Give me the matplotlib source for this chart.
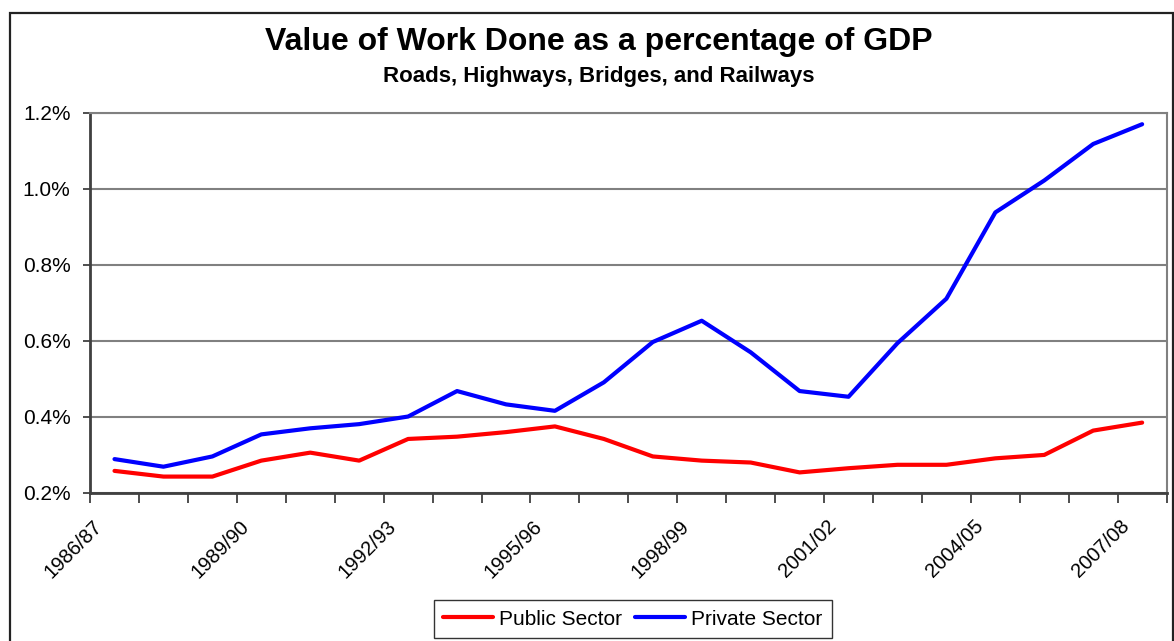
import matplotlib.pyplot as plt
from matplotlib.patches import Rectangle
from matplotlib.ticker import FuncFormatter

years = ['1986/87', '1987/88', '1988/89', '1989/90', '1990/91', '1991/92', '1992/93',
         '1993/94', '1994/95', '1995/96', '1996/97', '1997/98', '1998/99', '1999/00',
         '2000/01', '2001/02', '2002/03', '2003/04', '2004/05', '2005/06', '2006/07',
         '2007/08']
public = [0.258, 0.243, 0.243, 0.285, 0.306, 0.285, 0.342, 0.348, 0.360, 0.375, 0.342,
          0.296, 0.285, 0.280, 0.254, 0.265, 0.274, 0.274, 0.291, 0.300, 0.364, 0.385]
private = [0.289, 0.269, 0.296, 0.354, 0.370, 0.381, 0.401, 0.468, 0.433, 0.416, 0.491,
           0.597, 0.653, 0.570, 0.468, 0.453, 0.594, 0.711, 0.938, 1.022, 1.118, 1.170]

plt.rcParams['font.family'] = ['Liberation Sans', 'DejaVu Sans']

fig = plt.figure(figsize=(11.74, 6.41), dpi=100)
ax = fig.add_axes([0.0767, 0.231, 0.917, 0.593])

x = list(range(len(years)))
ax.plot(x, public, color='#ff0000', lw=3, label='Public Sector', solid_capstyle='round')
ax.plot(x, private, color='#0000ff', lw=3, label='Private Sector', solid_capstyle='round')

ax.set_xlim(-0.5, len(years) - 0.5)
ax.set_ylim(0.2, 1.2)
ax.set_yticks([0.2, 0.4, 0.6, 0.8, 1.0, 1.2])
ax.yaxis.set_major_formatter(FuncFormatter(lambda v, p: '%.1f%%' % v))
ax.grid(axis='y', color='#808080', lw=1.5)
ax.set_axisbelow(True)

# ticks sit between categories, labels on every third category
ax.set_xticks([i - 0.5 for i in range(len(years) + 1)])
ax.set_xticklabels([])
ax.set_xticks([i - 0.45 for i in x[::3]], minor=True)
ax.set_xticklabels(years[::3], minor=True, rotation=45, ha='right',
                   rotation_mode='anchor', fontsize=14.5)
ax.tick_params(axis='x', which='minor', length=0, pad=17)
ax.tick_params(axis='x', which='major', length=7, width=1.3, color='#404040')
ax.tick_params(axis='y', length=5, width=1.3, color='#404040', labelsize=15, pad=9)

for side in ['left', 'bottom']:
    ax.spines[side].set_color('#404040')
    ax.spines[side].set_linewidth(2)
for side in ['top', 'right']:
    ax.spines[side].set_color('#808080')
    ax.spines[side].set_linewidth(1.5)

fig.text(0.51, 0.934, 'Value of Work Done as a percentage of GDP', ha='center',
         va='center', fontsize=23, fontweight='bold')
fig.text(0.51, 0.881, 'Roads, Highways, Bridges, and Railways', ha='center',
         va='center', fontsize=16, fontweight='bold')

leg = fig.legend(loc='center', bbox_to_anchor=(0.539, 0.034), ncol=2, fontsize=15,
                 frameon=True, fancybox=False, edgecolor='black', handlelength=2.4,
                 handletextpad=0.3, columnspacing=0.6, borderpad=0.45)
leg.get_frame().set_linewidth(1)

fig.patches.append(Rectangle((0.0085, -0.02), 0.9906, 0.9997, transform=fig.transFigure,
                             fill=False, edgecolor='#222222', lw=1.6))

fig.savefig('out.png', dpi=100)
